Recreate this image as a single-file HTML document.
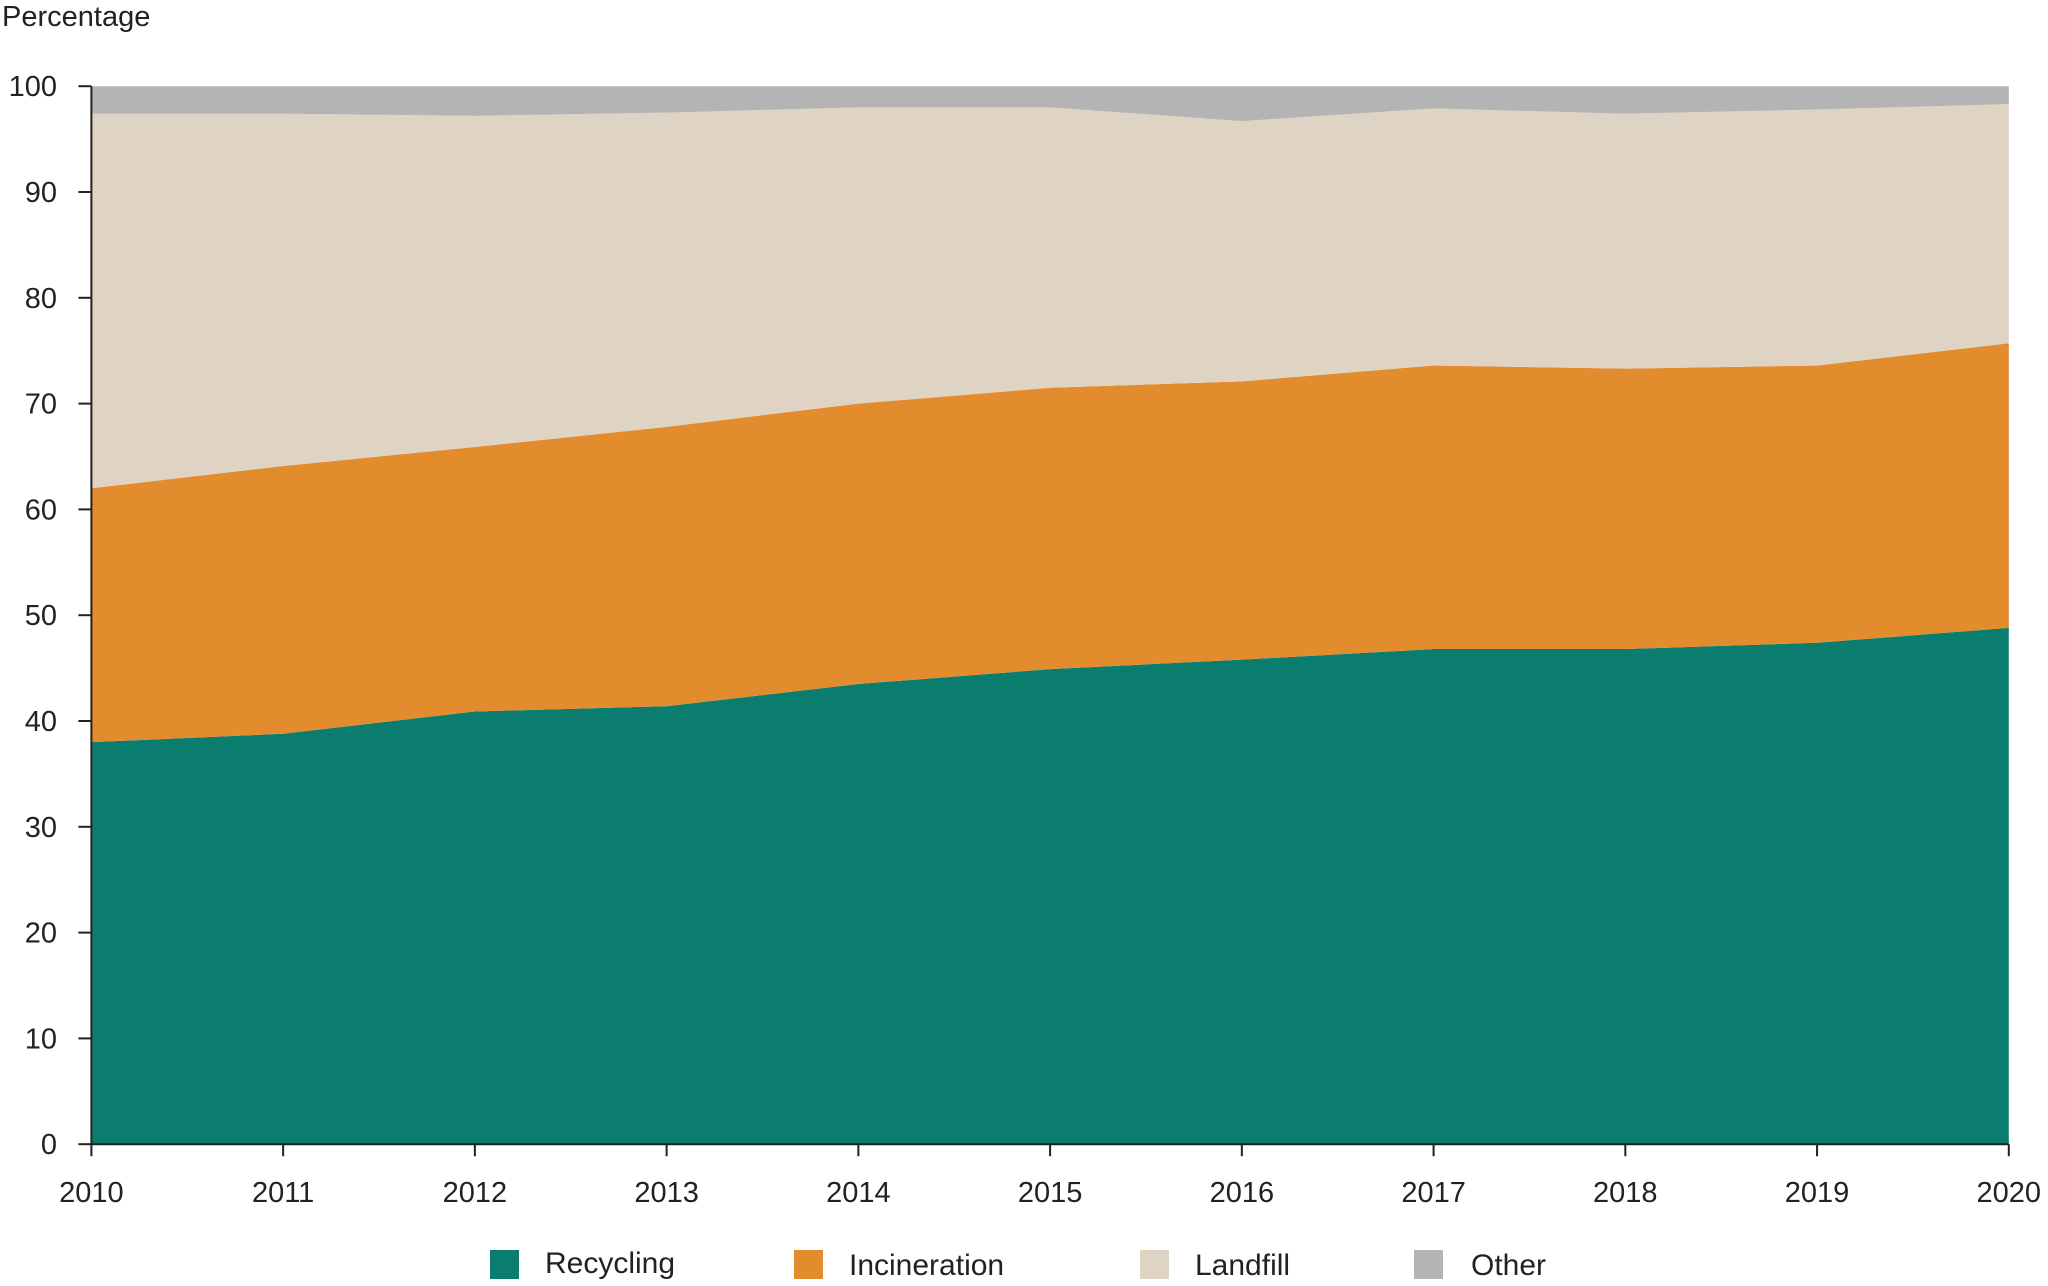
<!DOCTYPE html>
<html><head><meta charset="utf-8"><style>
html,body{margin:0;padding:0;background:#fff}
svg{display:block;font-family:"Liberation Sans",sans-serif}
</style></head><body>
<svg id="chart" width="2048" height="1286" viewBox="0 0 2048 1286" xmlns="http://www.w3.org/2000/svg">
<text x="2" y="26" font-size="29" fill="#222">Percentage</text>
<g id="areas"></g>
<g id="axes"></g>
<g id="legend">
<rect x="490" y="1250" width="29" height="29" fill="#0b7d6e"/>
<text x="545" y="1273" font-size="30" fill="#222">Recycling</text>
<rect x="794" y="1250" width="29" height="29" fill="#e28c2e"/>
<text x="849" y="1275" font-size="30" fill="#222">Incineration</text>
<rect x="1140" y="1250" width="29" height="29" fill="#dfd4c3"/>
<text x="1195" y="1275" font-size="30" fill="#222">Landfill</text>
<rect x="1414" y="1250" width="29" height="29" fill="#b3b4b3"/>
<text x="1471" y="1275" font-size="30" fill="#222">Other</text>
</g>
</svg>
<script>
const years = [2010,2011,2012,2013,2014,2015,2016,2017,2018,2019,2020];
const recycling = [38.0,38.8,40.9,41.4,43.5,44.9,45.8,46.8,46.8,47.4,48.8];
const incineration = [24.0,25.3,25.0,26.4,26.5,26.6,26.3,26.8,26.5,26.2,26.9];
const landfill = [35.4,33.3,31.3,29.7,28.0,26.5,24.6,24.3,24.1,24.2,22.6];
const other = [2.6,2.6,2.8,2.5,2.0,2.0,3.3,2.1,2.6,2.2,1.7];
const yTicks = [0,10,20,30,40,50,60,70,80,90,100];
const NS="http://www.w3.org/2000/svg";
const X0=91.4,X1=2008.8,Y0=1144.2,Y100=86.2;
const xs=i=>X0+(X1-X0)*(years[i]-years[0])/(years[years.length-1]-years[0]);
const ys=v=>Y0-(Y0-Y100)*v/100;
const series=[["recycling",recycling,"#0b7d6e"],["incineration",incineration,"#e28c2e"],["landfill",landfill,"#dfd4c3"],["other",other,"#b3b4b3"]];
const areas=document.getElementById('areas');
let base=years.map(()=>0);
series.forEach(([name,vals,col])=>{
  const top=base.map((b,i)=>b+vals[i]);
  let d="M"+years.map((_,i)=>xs(i)+","+ys(top[i])).join("L");
  for(let i=years.length-1;i>=0;i--) d+="L"+xs(i)+","+ys(base[i]);
  d+="Z";
  const p=document.createElementNS(NS,'path');
  p.setAttribute('d',d);p.setAttribute('fill',col);
  
  
  areas.appendChild(p);
  base=top;
});
const axes=document.getElementById('axes');
function line(x1,y1,x2,y2,n){const l=document.createElementNS(NS,'line');l.setAttribute('x1',x1);l.setAttribute('y1',y1);l.setAttribute('x2',x2);l.setAttribute('y2',y2);l.setAttribute('stroke','#222');l.setAttribute('stroke-width','2');


axes.appendChild(l);}
function text(x,y,s,anchor,n){const t=document.createElementNS(NS,'text');t.setAttribute('x',x);t.setAttribute('y',y);t.setAttribute('font-size','29');t.setAttribute('fill','#222');t.setAttribute('text-anchor',anchor);t.textContent=s;


axes.appendChild(t);}
line(X0,Y100,X0,Y0,'y-axis-line');
line(X0,Y0,X1,Y0,'x-axis-line');
yTicks.forEach(v=>{line(X0-13,ys(v),X0,ys(v),'y-tick');text(57,ys(v)+10,String(v),'end','y-tick-label');});
years.forEach((y,i)=>{line(xs(i),Y0,xs(i),Y0+12,'x-tick');text(xs(i),1202,String(y),'middle','x-tick-label');});
</script>
</body></html>
